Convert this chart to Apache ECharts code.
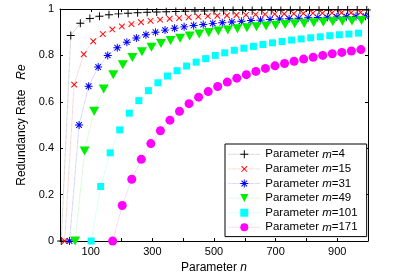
<!DOCTYPE html>
<html><head><meta charset="utf-8">
<script src="https://cdn.jsdelivr.net/npm/echarts@6/dist/echarts.min.js"></script>
<style>html,body{margin:0;padding:0;background:#fff}#c{width:397px;height:279px}</style>
</head><body><div id="c"></div>
<script>
const FONT = "'Liberation Sans', Arial, sans-serif";
const xTickLabels = ['100', '300', '500', '700', '900'];
const yTickLabels = ['0', '0.2', '0.4', '0.6', '0.8', '1'];
const seriesNames = ['Parameter m=4', 'Parameter m=15', 'Parameter m=31', 'Parameter m=49', 'Parameter m=101', 'Parameter m=171'];

const n_m4 = [4,35,66,97,128,159,190,221,252,283,314,345,376,407,438,469,500,531,562,593,624,655,686,717,748,779,810,841,872,903,934,965,996];
const re_m4 = [0,0.886,0.939,0.959,0.969,0.975,0.979,0.982,0.984,0.986,0.987,0.988,0.989,0.990,0.991,0.991,0.992,0.992,0.993,0.993,0.994,0.994,0.994,0.994,0.995,0.995,0.995,0.995,0.995,0.996,0.996,0.996,0.996];

const n_m15 = [15,46,77,108,139,170,201,232,263,294,325,356,387,418,449,480,511,542,573,604,635,666,697,728,759,790,821,852,883,914,945,976];
const re_m15 = [0,0.674,0.805,0.861,0.892,0.912,0.925,0.935,0.943,0.949,0.954,0.958,0.961,0.964,0.967,0.969,0.971,0.972,0.974,0.975,0.976,0.977,0.978,0.979,0.980,0.981,0.982,0.982,0.983,0.984,0.984,0.985];

const n_m31 = [31,62,93,124,155,186,217,248,279,310,341,372,403,434,465,496,527,558,589,620,651,682,713,744,775,806,837,868,899,930,961,992];
const re_m31 = [0,0.5,0.667,0.75,0.8,0.833,0.857,0.875,0.889,0.9,0.909,0.917,0.923,0.929,0.933,0.938,0.941,0.944,0.947,0.95,0.952,0.955,0.957,0.958,0.96,0.962,0.963,0.964,0.966,0.967,0.968,0.969];

const n_m49 = [49,80,111,142,173,204,235,266,297,328,359,390,421,452,483,514,545,576,607,638,669,700,731,762,793,824,855,886,917,948,979];
const re_m49 = [0,0.388,0.559,0.655,0.717,0.760,0.791,0.816,0.835,0.851,0.864,0.874,0.884,0.892,0.899,0.905,0.910,0.915,0.919,0.923,0.927,0.930,0.933,0.936,0.938,0.941,0.943,0.945,0.947,0.948,0.950];

const n_m101 = [101,132,163,194,225,256,287,318,349,380,411,442,473,504,535,566,597,628,659,690,721,752,783,814,845,876,907,938,969];
const re_m101 = [0,0.235,0.380,0.479,0.551,0.605,0.648,0.682,0.711,0.734,0.754,0.771,0.786,0.800,0.811,0.822,0.831,0.839,0.847,0.854,0.860,0.866,0.871,0.876,0.880,0.885,0.889,0.892,0.896];

const n_m171 = [171,202,233,264,295,326,357,388,419,450,481,512,543,574,605,636,667,698,729,760,791,822,853,884,915,946,977];
const re_m171 = [0,0.153,0.266,0.352,0.420,0.475,0.521,0.559,0.592,0.620,0.644,0.666,0.685,0.702,0.717,0.731,0.744,0.755,0.765,0.775,0.784,0.792,0.800,0.807,0.813,0.819,0.825];

const colors = ['#000000', '#ff0000', '#0000ff', '#00ee00', '#00ffff', '#ff00ff'];

const PLUS = 'path://M0,4.4H10V5.6H0Z M4.4,0H5.6V10H4.4Z';
const STAR = 'path://M0,4.4H10V5.6H0Z M4.4,0H5.6V10H4.4Z M1.08,1.92L1.92,1.08L8.92,8.08L8.08,8.92Z M8.08,1.08L8.92,1.92L1.92,8.92L1.08,8.08Z';

function zip(a, b) { return a.map((v, i) => [v, b[i]]); }

const seriesData = [
  zip(n_m4, re_m4), zip(n_m15, re_m15), zip(n_m31, re_m31),
  zip(n_m49, re_m49), zip(n_m101, re_m101), zip(n_m171, re_m171)
];
const symbols = [PLUS, PLUS, STAR, 'triangle', 'rect', 'circle'];
const symbolSizes = [8, 8, 8, [10, 9], 7, 9];
const symbolRotates = [0, 45, 0, 180, 0, 0];

const chart = echarts.init(document.getElementById('c'));
chart.setOption({
  animation: false,
  backgroundColor: '#fff',
  grid: { left: 60, right: 29, top: 9, bottom: 38 },
  legend: {
    orient: 'vertical', left: 225, top: 144,
    data: seriesNames,
    itemWidth: 32, itemHeight: 10, itemGap: 0,
    padding: [3, 9, 2, 3],
    borderColor: '#000', borderWidth: 1, backgroundColor: '#fff',
    lineStyle: { width: 0.6, type: 'dotted', opacity: 0.45 },
    textStyle: {
      fontFamily: FONT, fontSize: 11.5, color: '#000', lineHeight: 14.6,
      rich: {
        a: { fontFamily: FONT, fontSize: 11.5, color: '#000', lineHeight: 14.6 },
        i: { fontFamily: FONT, fontSize: 11.5, color: '#000', fontStyle: 'italic', lineHeight: 14.6 }
      }
    },
    formatter: function (name) {
      const parts = name.split('m=');
      return '{a|' + parts[0] + '}{i|m}{a|=' + parts[1] + '}';
    }
  },
  xAxis: [{
    type: 'value', min: 0, max: 1000, interval: 100,
    name: '{a|Parameter }{i|n}', nameLocation: 'middle', nameGap: 20,
    nameTextStyle: {
      fontFamily: FONT, fontSize: 12, color: '#000',
      rich: {
        a: { fontFamily: FONT, fontSize: 12, color: '#000' },
        i: { fontStyle: 'italic', fontFamily: FONT, fontSize: 12, color: '#000' }
      }
    },
    axisLine: { lineStyle: { color: '#000', width: 1 } },
    axisTick: { inside: true, length: 3, lineStyle: { color: '#000' } },
    axisLabel: {
      margin: 5, fontFamily: FONT, fontSize: 11, color: '#000',
      formatter: v => xTickLabels.indexOf(String(v)) >= 0 ? String(v) : ''
    },
    splitLine: { show: false }
  }, {
    type: 'value', min: 0, max: 1000, interval: 100, position: 'top',
    axisLine: { show: true, onZero: false, lineStyle: { color: '#000', width: 1 } },
    axisTick: { inside: true, length: 3, lineStyle: { color: '#000' } },
    axisLabel: { show: false }, splitLine: { show: false }
  }],
  yAxis: [{
    type: 'value', min: 0, max: 1, interval: 0.2,
    name: '{a|Redundancy Rate}{s|   }{i|Re}', nameLocation: 'middle', nameGap: 25,
    nameTextStyle: {
      fontFamily: FONT, fontSize: 12, color: '#000',
      rich: {
        a: { fontFamily: FONT, fontSize: 12, color: '#000' },
        s: { fontFamily: FONT, fontSize: 12 },
        i: { fontFamily: FONT, fontSize: 12, color: '#000', fontStyle: 'italic' }
      }
    },
    axisLine: { show: true, lineStyle: { color: '#000', width: 1 } },
    axisTick: { show: true, inside: true, length: 3, lineStyle: { color: '#000' } },
    axisLabel: {
      margin: 6, fontFamily: FONT, fontSize: 11, color: '#000',
      formatter: (v) => yTickLabels[Math.round(v / 0.2)]
    },
    splitLine: { show: false }
  }, {
    type: 'value', min: 0, max: 1, interval: 0.2, position: 'right',
    axisLine: { show: true, onZero: false, lineStyle: { color: '#000', width: 1 } },
    axisTick: { show: true, inside: true, length: 3, lineStyle: { color: '#000' } },
    axisLabel: { show: false }, splitLine: { show: false }
  }],
  series: seriesNames.map((name, i) => ({
    name: name, type: 'line', data: seriesData[i],
    symbol: symbols[i], symbolSize: symbolSizes[i], symbolRotate: symbolRotates[i],
    showAllSymbol: true,
    itemStyle: { color: colors[i] },
    lineStyle: { color: colors[i], width: 0.6, type: 'dotted', opacity: 0.5 },
    emphasis: { disabled: true },
    clip: false
  }))
});
</script>
</body></html>
